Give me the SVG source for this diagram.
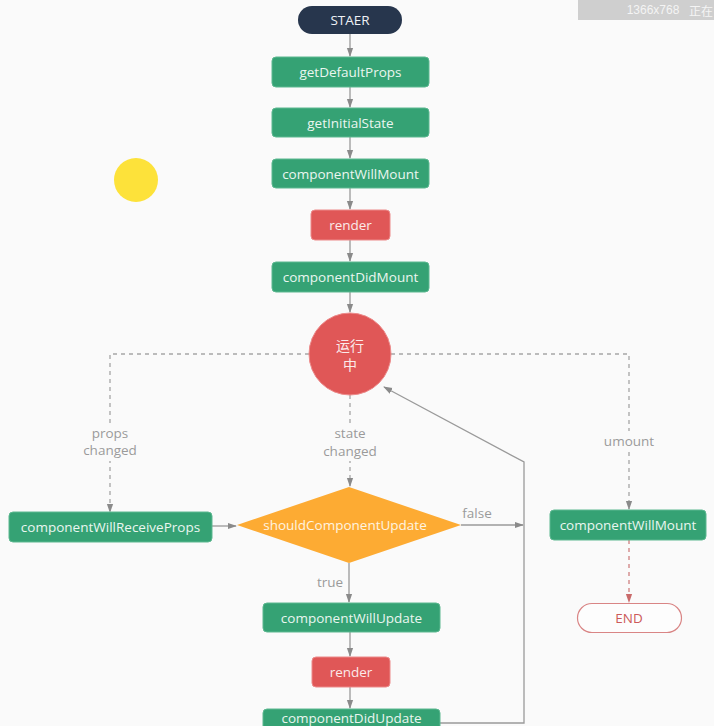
<svg xmlns="http://www.w3.org/2000/svg" width="714" height="726" viewBox="0 0 714 726">
<style>
text{font-family:"Open Sans","Lato","Liberation Sans",sans-serif;font-size:13.5px;text-anchor:middle;dominant-baseline:central}
.g rect{fill:#35a274;stroke:#5cb890;stroke-width:1}
.g text{fill:#eaf6f0}
.r rect{fill:#e05757;stroke:#ec8a8a;stroke-width:1}
.r text{fill:#fbeaea}
.c{fill:none;stroke:#9a9a9a;stroke-width:1.3}
.d{fill:none;stroke:#a6a6a6;stroke-width:1.3;stroke-dasharray:4 4}
.lbl{fill:#9a9a9a;font-size:13.5px}
</style>
<defs>
<marker id="a" viewBox="0 0 10 10" refX="9" refY="5" markerWidth="7" markerHeight="7" orient="auto"><path d="M0,1.5L10,5L0,8.5z" fill="#8a8a8a"/></marker>
<marker id="ar" viewBox="0 0 10 10" refX="9" refY="5" markerWidth="7" markerHeight="7" orient="auto"><path d="M0,1.5L10,5L0,8.5z" fill="#c96a6a"/></marker>
</defs>
<rect width="714" height="726" fill="#fafafa"/>
<rect x="578" y="0" width="136" height="20" fill="#cfcfcf"/>
<text x="653" y="10" style="fill:#f4f4f4;font-size:12px;font-family:'Liberation Sans','Noto Sans CJK SC',sans-serif">1366x768</text>
<text x="689" y="10" style="fill:#f4f4f4;font-size:12px;font-family:'Noto Sans CJK SC',sans-serif;text-anchor:start">正在</text>
<circle cx="136" cy="180" r="22" fill="#fde23a"/>
<g id="connectors">
<path class="c" d="M350,34V56" marker-end="url(#a)"/>
<path class="c" d="M350,87V107" marker-end="url(#a)"/>
<path class="c" d="M350,137V158" marker-end="url(#a)"/>
<path class="c" d="M350,188V209" marker-end="url(#a)"/>
<path class="c" d="M350,240V261" marker-end="url(#a)"/>
<path class="c" d="M350,292V312" marker-end="url(#a)"/>
<path class="d" d="M309,354H110V512" marker-end="url(#a)"/>
<path class="d" d="M391,354H629V509" marker-end="url(#a)"/>
<path class="d" d="M350,395V486" marker-end="url(#a)"/>
<path class="c" d="M212,526H236" marker-end="url(#a)"/>
<path class="c" d="M461,525H523" marker-end="url(#a)"/>
<path class="c" d="M349,563V602" marker-end="url(#a)"/>
<path class="c" d="M350,632V656" marker-end="url(#a)"/>
<path class="c" d="M350,687V708" marker-end="url(#a)"/>
<path class="c" d="M440,723H524V462L384,387" marker-end="url(#a)"/>
<path d="M629,540V602" fill="none" stroke="#cf8080" stroke-width="1.3" stroke-dasharray="4 4" marker-end="url(#ar)"/>
<rect x="88" y="423" width="44" height="38" fill="#fafafa"/>
<rect x="322" y="423" width="56" height="38" fill="#fafafa"/>
<rect x="600" y="431" width="58" height="20" fill="#fafafa"/>
<text class="lbl" x="110" y="433">props</text>
<text class="lbl" x="110" y="450">changed</text>
<text class="lbl" x="350" y="433">state</text>
<text class="lbl" x="350" y="451">changed</text>
<text class="lbl" x="629" y="441">umount</text>
<text class="lbl" x="477" y="513">false</text>
<text class="lbl" x="330" y="582">true</text>
</g>
<g id="start"><rect x="298" y="6" width="104" height="28" rx="14" fill="#27364d"/><text x="350" y="20" fill="#eef1f5">STAER</text></g>
<g id="getDefaultProps" class="g"><rect x="272" y="57" width="157" height="30" rx="4"/><text x="350.5" y="72">getDefaultProps</text></g>
<g id="getInitialState" class="g"><rect x="272" y="108" width="157" height="29" rx="4"/><text x="350.5" y="122.5">getInitialState</text></g>
<g id="componentWillMount" class="g"><rect x="272" y="159" width="157" height="29" rx="4"/><text x="350.5" y="173.5">componentWillMount</text></g>
<g id="render1" class="r"><rect x="311" y="210" width="79" height="30" rx="4"/><text x="350.5" y="225">render</text></g>
<g id="componentDidMount" class="g"><rect x="272" y="262" width="157" height="30" rx="4"/><text x="350.5" y="277">componentDidMount</text></g>
<g id="running"><circle cx="350" cy="354" r="41" fill="#e05757" stroke="#ec8a8a" stroke-width="1"/><text x="350" y="345" style="fill:#fbeaea;font-family:'Noto Sans CJK SC',sans-serif;font-size:14px">运行</text><text x="350" y="364" style="fill:#fbeaea;font-family:'Noto Sans CJK SC',sans-serif;font-size:14px">中</text></g>
<g id="componentWillReceiveProps" class="g"><rect x="9" y="512" width="203" height="30" rx="4"/><text x="110.5" y="527">componentWillReceiveProps</text></g>
<g id="shouldComponentUpdate"><path d="M237,525L349,487L461,525L349,563Z" fill="#fdab33"/><text x="345" y="525" fill="#fff4e0">shouldComponentUpdate</text></g>
<g id="componentWillUpdate" class="g"><rect x="263" y="603" width="177" height="29" rx="4"/><text x="351.5" y="617.5">componentWillUpdate</text></g>
<g id="render2" class="r"><rect x="312" y="657" width="78" height="30" rx="4"/><text x="351" y="672">render</text></g>
<g id="componentDidUpdate" class="g"><rect x="263" y="709" width="177" height="30" rx="4"/><text x="351.5" y="718">componentDidUpdate</text></g>
<g id="componentWillUnmount" class="g"><rect x="550" y="510" width="156" height="30" rx="4"/><text x="628" y="525">componentWillMount</text></g>
<g id="end"><rect x="577.5" y="603.5" width="104" height="29" rx="14.5" fill="#fdfdfd" stroke="#d98585" stroke-width="1.2"/><text x="629" y="618" fill="#cc5a5a">END</text></g>
</svg>
